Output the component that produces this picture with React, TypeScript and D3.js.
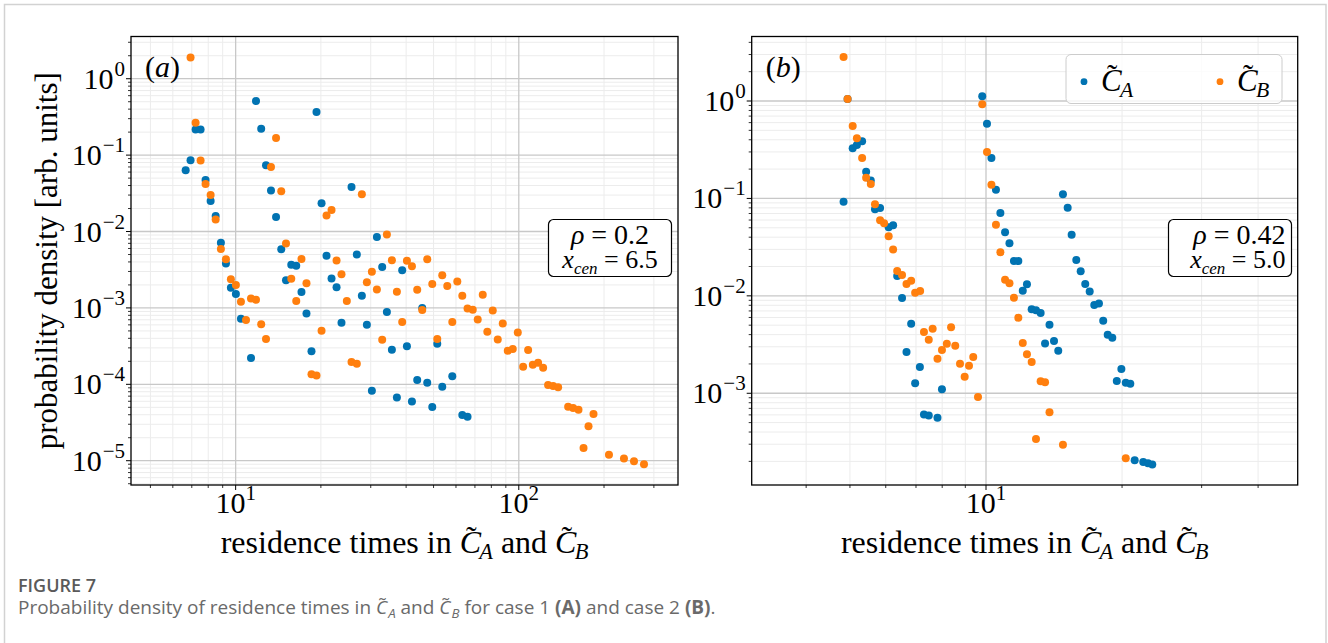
import * as d3 from 'd3';
import React from 'react';

const W = 1328;
const H = 643;
const BLUE = '#0173b2';
const ORANGE = '#ff7f0e';
const SERIF = "'Liberation Serif', 'DejaVu Serif', serif";
const SANS = "'Open Sans', 'Noto Sans', sans-serif";

// case 1, panel (a): [residence time, probability density]
const aSeriesA = [
  [6.66, 0.0633], [6.93, 0.0855], [7.22, 0.217], [7.52, 0.217], [7.83, 0.0473], [8.16, 0.0251],
  [8.5, 0.016], [8.87, 0.00714], [9.24, 0.00382], [9.62, 0.00183], [10.02, 0.00152], [10.44, 0.00072],
  [11.33, 0.000221], [11.8, 0.51], [12.31, 0.222], [12.8, 0.0736], [13.33, 0.0344], [13.89, 0.0155],
  [14.49, 0.00587], [15.06, 0.00231], [15.72, 0.00368], [16.37, 0.00357], [17.08, 0.00161], [17.79, 0.000848],
  [18.53, 0.00027], [19.3, 0.366], [20.11, 0.0234], [20.94, 0.0048], [21.81, 0.00242], [22.72, 0.00187],
  [23.65, 0.000639], [25.66, 0.0383], [26.79, 0.00501], [27.91, 0.00144], [29.07, 0.000601], [30.28, 0.0000825],
  [31.54, 0.0085], [32.93, 0.00344], [34.21, 0.000881], [35.63, 0.000283], [37.11, 0.0000672], [38.75, 0.00312],
  [40.26, 0.000314], [41.94, 0.0000596], [43.78, 0.000114], [45.6, 0.001], [47.5, 0.000105], [49.48, 0.0000505],
  [51.53, 0.00034], [53.67, 0.0000931], [58.23, 0.000128], [63.17, 0.0000397], [65.91, 0.0000377],
];
const aSeriesB = [
  [6.93, 1.9], [7.22, 0.266], [7.52, 0.0848], [7.83, 0.0419], [8.16, 0.0301], [8.5, 0.01435],
  [8.87, 0.00592], [9.24, 0.00434], [9.62, 0.00238], [10.02, 0.002], [10.44, 0.0012], [10.88, 0.000693],
  [11.33, 0.00133], [11.8, 0.00128], [12.31, 0.000609], [12.8, 0.000391], [13.33, 0.0699], [13.89, 0.1674],
  [14.49, 0.0336], [15.06, 0.00699], [15.72, 0.0024], [16.37, 0.00123], [17.08, 0.00438], [17.79, 0.00211],
  [18.53, 0.000135], [19.3, 0.00013], [20.11, 0.000502], [20.94, 0.0162], [21.81, 0.0192], [22.72, 0.00419],
  [23.65, 0.00275], [24.7, 0.00123], [25.66, 0.000196], [26.79, 0.000186], [27.91, 0.0307], [29.07, 0.00217],
  [30.28, 0.00298], [31.54, 0.001745], [32.93, 0.000382], [34.21, 0.00916], [35.63, 0.00422], [37.11, 0.001623],
  [38.75, 0.000652], [40.26, 0.00413], [41.94, 0.0035], [43.78, 0.001725], [45.6, 0.000936], [47.5, 0.00434],
  [49.48, 0.00205], [51.53, 0.000391], [53.67, 0.00268], [55.9, 0.00193], [58.23, 0.000652], [60.65, 0.00221],
  [63.17, 0.00144], [65.91, 0.000985], [68.76, 0.000944], [71.61, 0.000707], [74.59, 0.001483], [77.42, 0.000487],
  [80.91, 0.000928], [84.27, 0.000387], [87.78, 0.000627], [91.42, 0.000275], [95.23, 0.000289], [99.19, 0.000478],
  [103.6, 0.00017], [107.9, 0.000281], [112.1, 0.00018], [117.0, 0.000192], [121.9, 0.000165], [126.9, 0.0000979],
  [132.2, 0.000095], [137.7, 0.0000914], [149.4, 0.000051], [155.6, 0.000049], [162.5, 0.0000466], [169.3, 0.0000147],
  [176.3, 0.0000282], [183.6, 0.0000409], [208.2, 0.000012], [235.2, 0.0000107], [255.2, 0.00000985], [276.8, 0.000009],
];

// case 2, panel (b)
const bSeriesA = [
  [4.84, 0.0925], [4.94, 1.048], [5.07, 0.327], [5.18, 0.353], [5.32, 0.386], [5.43, 0.188],
  [5.56, 0.153], [5.68, 0.0773], [5.83, 0.0797], [6.09, 0.0505], [6.23, 0.053], [6.36, 0.016],
  [6.52, 0.0095], [6.67, 0.00265], [6.83, 0.00517], [6.97, 0.00127], [7.14, 0.00186], [7.29, 0.000607],
  [7.47, 0.000593], [7.81, 0.00056], [7.99, 0.0011], [9.81, 1.117], [10.05, 0.585], [10.28, 0.26],
  [10.52, 0.1228], [10.76, 0.0708], [11.02, 0.045], [11.27, 0.0346], [11.53, 0.0228], [11.79, 0.0228],
  [12.06, 0.0113], [12.32, 0.01315], [12.62, 0.00729], [12.9, 0.0071], [13.21, 0.00666], [13.51, 0.00325],
  [13.82, 0.00505], [14.14, 0.00344], [14.45, 0.00273], [14.8, 0.1102], [15.16, 0.0802], [15.47, 0.0423],
  [15.84, 0.0233], [16.2, 0.0179], [16.58, 0.0132], [16.96, 0.0111], [17.36, 0.00804], [17.78, 0.00837],
  [18.17, 0.00555], [18.59, 0.00399], [19.03, 0.00372], [19.47, 0.00134], [19.93, 0.00177], [20.38, 0.00128],
  [20.86, 0.00125], [21.33, 0.000205], [22.28, 0.000197], [22.83, 0.000191], [23.33, 0.000186],
];
const bSeriesB = [
  [4.84, 2.83], [4.94, 1.048], [5.07, 0.554], [5.18, 0.414], [5.32, 0.26], [5.43, 0.163],
  [5.56, 0.1406], [5.68, 0.087], [5.83, 0.0596], [5.95, 0.0555], [6.09, 0.0408], [6.23, 0.0299],
  [6.36, 0.018], [6.52, 0.01635], [6.67, 0.0132], [6.83, 0.01428], [6.97, 0.01076], [7.15, 0.0112],
  [7.29, 0.00425], [7.47, 0.00354], [7.62, 0.00459], [7.81, 0.00226], [7.99, 0.00278], [8.19, 0.00322],
  [8.37, 0.00475], [8.55, 0.00307], [8.76, 0.00201], [8.97, 0.00148], [9.17, 0.00192], [9.37, 0.00235],
  [9.6, 0.000914], [9.81, 0.925], [10.05, 0.2996], [10.28, 0.1382], [10.52, 0.0537], [10.76, 0.028],
  [11.02, 0.0146], [11.27, 0.01343], [11.53, 0.00954], [11.79, 0.00596], [12.06, 0.00328], [12.32, 0.00251],
  [12.62, 0.00209], [12.9, 0.000339], [13.21, 0.001325], [13.51, 0.001294], [13.82, 0.000637], [14.8, 0.000296],
  [20.38, 0.000215],
];

const aXTicks = [10, 100];
const bXTicks = [10];
const aYExps = [0, -1, -2, -3, -4, -5];
const bYExps = [0, -1, -2, -3];

function logTicks(lo: number, hi: number) {
  const major: number[] = [];
  const minor: number[] = [];
  for (let e = Math.floor(Math.log10(lo)); e <= Math.ceil(Math.log10(hi)); e++) {
    for (let k = 1; k <= 9; k++) {
      const v = k * Math.pow(10, e);
      if (v < lo * 0.9999 || v > hi * 1.0001) continue;
      (k === 1 ? major : minor).push(v);
    }
  }
  return { major, minor };
}

// builds tspans for text with tilde-C symbols and bold bits
function mathText(fs: number, parts: any[]) {
  const out: any[] = [];
  let pending = 0;
  parts.forEach((p, i) => {
    if (typeof p === 'string') {
      out.push(<tspan key={i} dy={pending}>{p}</tspan>);
      pending = 0;
    } else if (p.b) {
      out.push(<tspan key={i} dy={pending} fontWeight="bold">{p.b}</tspan>);
      pending = 0;
    } else if (p.c) {
      out.push(<tspan key={i + 'c'} dy={pending} fontStyle="italic">C</tspan>);
      out.push(<tspan key={i + 't'} dx={-0.47 * fs} dy={-0.17 * fs}>˜</tspan>);
      out.push(
        <tspan key={i + 's'} dx={0.08 * fs} dy={0.37 * fs} fontSize={0.7 * fs} fontStyle="italic">
          {p.c}
        </tspan>
      );
      pending = -0.2 * fs;
    }
  });
  return out;
}

const expStr = (e: number) => (e < 0 ? '\u2212' + -e : String(e));

function Panel({ frame, xDomain, yDomain, xTicks, yExps, seriesA, seriesB, tag, note, noteBox, noteAlign, yLabel }: any) {
  const x = d3.scaleLog().domain(xDomain).range([frame.l, frame.r]);
  const y = d3.scaleLog().domain(yDomain).range([frame.b, frame.t]);
  const xt = logTicks(xDomain[0], xDomain[1]);
  const yt = logTicks(yDomain[0], yDomain[1]);
  const cx = (frame.l + frame.r) / 2;

  return (
    <g>
      {/* grid */}
      {xt.minor.map((v) => (
        <line key={'xm' + v} x1={x(v)} x2={x(v)} y1={frame.t} y2={frame.b} stroke="#ececec" strokeWidth={1} />
      ))}
      {yt.minor.map((v) => (
        <line key={'ym' + v} x1={frame.l} x2={frame.r} y1={y(v)} y2={y(v)} stroke="#ececec" strokeWidth={1} />
      ))}
      {xt.major.map((v) => (
        <line key={'xM' + v} x1={x(v)} x2={x(v)} y1={frame.t} y2={frame.b} stroke="#c8c8c8" strokeWidth={1.3} />
      ))}
      {yt.major.map((v) => (
        <line key={'yM' + v} x1={frame.l} x2={frame.r} y1={y(v)} y2={y(v)} stroke="#c8c8c8" strokeWidth={1.3} />
      ))}

      {/* points */}
      {seriesA.map((d: number[], i: number) => (
        <circle key={'a' + i} cx={x(d[0])} cy={y(d[1])} r={4} fill={BLUE} />
      ))}
      {seriesB.map((d: number[], i: number) => (
        <circle key={'b' + i} cx={x(d[0])} cy={y(d[1])} r={4} fill={ORANGE} />
      ))}

      {/* frame */}
      <rect x={frame.l} y={frame.t} width={frame.r - frame.l} height={frame.b - frame.t} fill="none" stroke="#000" strokeWidth={1.3} />

      {/* ticks */}
      {xt.major.map((v) => (
        <line key={'xtM' + v} x1={x(v)} x2={x(v)} y1={frame.b} y2={frame.b + 5} stroke="#000" strokeWidth={1} />
      ))}
      {xt.minor.map((v) => (
        <line key={'xtm' + v} x1={x(v)} x2={x(v)} y1={frame.b} y2={frame.b + 3} stroke="#000" strokeWidth={0.8} />
      ))}
      {yt.major.map((v) => (
        <line key={'ytM' + v} x1={frame.l - 5} x2={frame.l} y1={y(v)} y2={y(v)} stroke="#000" strokeWidth={1} />
      ))}
      {yt.minor.map((v) => (
        <line key={'ytm' + v} x1={frame.l - 3} x2={frame.l} y1={y(v)} y2={y(v)} stroke="#000" strokeWidth={0.8} />
      ))}

      {/* tick labels */}
      {xTicks.map((v: number) => (
        <text key={'xl' + v} x={x(v)} y={frame.b + 28} textAnchor="middle" fontSize={30} fontFamily={SERIF}>
          10<tspan dy={-13} fontSize={21}>{Math.round(Math.log10(v))}</tspan>
        </text>
      ))}
      {yExps.map((e: number) => (
        <text key={'yl' + e} x={frame.l - 6} y={y(Math.pow(10, e)) + 10} textAnchor="end" fontSize={30} fontFamily={SERIF}>
          10<tspan dx={1} dy={-13} fontSize={21}>{expStr(e)}</tspan>
        </text>
      ))}

      {/* axis labels */}
      <text x={cx} y={553} textAnchor="middle" fontSize={32} fontFamily={SERIF} style={{ whiteSpace: 'pre' }}>
        {mathText(32, ['residence times in ', { c: 'A' }, ' and ', { c: 'B' }])}
      </text>
      {yLabel && (
        <text transform={`translate(57,${(frame.t + frame.b) / 2}) rotate(-90)`} textAnchor="middle" fontSize={31} fontFamily={SERIF}>
          probability density [arb. units]
        </text>
      )}

      {/* panel tag */}
      <text x={frame.l + 14} y={frame.t + 40} fontSize={30} fontFamily={SERIF}>
        (<tspan fontStyle="italic">{tag}</tspan>)
      </text>

      {/* annotation */}
      <rect x={noteBox.x} y={noteBox.y} width={noteBox.w} height={noteBox.h} rx={5} fill="#fff" stroke="#000" strokeWidth={1.2} />
      {note.map((line: any[], i: number) => (
        <text
          key={'n' + i}
          x={noteAlign === 'end' ? noteBox.x + noteBox.w - 6 : noteBox.x + noteBox.w / 2}
          y={noteBox.y + 24 + i * 24}
          textAnchor={noteAlign}
          fontSize={i === 0 ? 28 : 26}
          fontFamily={SERIF}
          style={{ whiteSpace: 'pre' }}
        >
          {line.map((p: any, j: number) =>
            typeof p === 'string' ? (
              <tspan key={j}>{p}</tspan>
            ) : p.sub ? (
              <tspan key={j} dy={6} fontSize={17} fontStyle="italic">{p.sub}</tspan>
            ) : (
              <tspan key={j} dy={p.dy || 0} fontStyle="italic">{p.i}</tspan>
            )
          )}
        </text>
      ))}
    </g>
  );
}

export default function App() {
  const frameA = { l: 131, r: 678, t: 36.5, b: 485 };
  const frameB = { l: 751.7, r: 1297.7, t: 36.5, b: 485 };
  return (
    <svg width={W} height={H} style={{ position: 'absolute', left: 0, top: 0, background: '#fff' }}>
      <rect x={4.5} y={4.5} width={1321.5} height={700} fill="#fff" stroke="#d2d2d2" strokeWidth={1.5} />
      <Panel
        frame={frameA}
        xDomain={[4.27, 365]}
        yDomain={[4.81e-6, 3.57]}
        xTicks={aXTicks}
        yExps={aYExps}
        seriesA={aSeriesA}
        seriesB={aSeriesB}
        tag="a"
        yLabel
        noteBox={{ x: 548.5, y: 219.5, w: 123, h: 57 }}
        noteAlign="middle"
        note={[
          [{ i: '\u03c1' }, ' = 0.2'],
          [{ i: 'x' }, { sub: 'cen' }, { i: ' ', dy: -6 }, '= 6.5'],
        ]}
      />
      <Panel
        frame={frameB}
        xDomain={[3.031, 48.94]}
        yDomain={[1.144e-4, 4.593]}
        xTicks={bXTicks}
        yExps={bYExps}
        seriesA={bSeriesA}
        seriesB={bSeriesB}
        tag="b"
        noteBox={{ x: 1168.5, y: 219.5, w: 123, h: 57 }}
        noteAlign="end"
        note={[
          [{ i: '\u03c1' }, ' = 0.42'],
          [{ i: 'x' }, { sub: 'cen' }, { i: ' ', dy: -6 }, '= 5.0'],
        ]}
      />

      {/* legend */}
      <rect x={1066} y={54.5} width={216} height={49} rx={5} fill="#fff" fillOpacity={0.8} stroke="#cccccc" strokeWidth={1} />
      <circle cx={1084} cy={81.7} r={3.4} fill={BLUE} />
      <text x={1101} y={91} fontSize={31} fontFamily={SERIF}>{mathText(31, [{ c: 'A' }])}</text>
      <circle cx={1220} cy={81.7} r={3.4} fill={ORANGE} />
      <text x={1237} y={91} fontSize={31} fontFamily={SERIF}>{mathText(31, [{ c: 'B' }])}</text>

      {/* caption */}
      <text x={18} y={592} fontSize={18} fontWeight={600} fontFamily={SANS} fill="#5a5a5a">FIGURE 7</text>
      <text x={18} y={614} fontSize={19} fontFamily={SANS} fill="#6a6a6a" style={{ whiteSpace: 'pre' }}>
        {mathText(19, [
          'Probability density of residence times in ',
          { c: 'A' },
          ' and ',
          { c: 'B' },
          ' for case 1 ',
          { b: '(A)' },
          ' and case 2 ',
          { b: '(B)' },
          '.',
        ])}
      </text>
    </svg>
  );
}
